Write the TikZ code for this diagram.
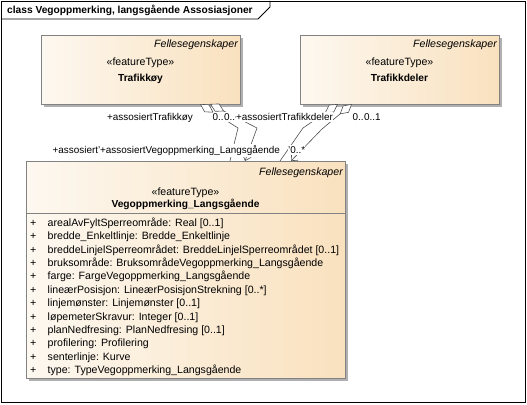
\documentclass[tikz,border=0pt]{standalone}
\usepackage{fontspec}
\setmainfont{Liberation Sans}
\usetikzlibrary{arrows.meta}
\definecolor{boxL}{RGB}{253,248,240}
\definecolor{boxR}{RGB}{249,225,190}
\definecolor{boxBorder}{RGB}{130,130,130}
\definecolor{shadowC}{RGB}{176,176,176}
\definecolor{lineC}{RGB}{80,80,80}
\newcommand\lblfont{\fontsize{10.2}{12}\selectfont}
\newcommand\attfont{\fontsize{10.6}{12}\selectfont}
\newcommand\rolefont{\fontsize{9.9}{12}\selectfont}
\tikzset{
  cls/.style={draw=boxBorder, line width=0.6pt, left color=boxL, right color=boxR, inner sep=0pt, anchor=north west},
  shadowbox/.style={fill=shadowC, draw=none},
  txt/.style={inner sep=0pt, font=\lblfont},
  stereo/.style={txt, anchor=base, font=\attfont},
  clsname/.style={txt, anchor=base, font=\lblfont\bfseries},
  pkg/.style={txt, anchor=base east, font=\attfont\itshape},
  attr/.style={txt, anchor=base west, font=\attfont},
  role/.style={txt, anchor=base west, fill=white, inner ysep=1.5pt, font=\rolefont},
  conn/.style={draw=lineC, line width=0.6pt},
  aggr/.style={conn, {Diamond[open, fill=white, length=16pt, width=9pt]}-},
  aggrnav/.style={conn, {Diamond[open, fill=white, length=16pt, width=9pt]}-{Straight Barb[length=5pt, width=9pt]}}
}
\begin{document}
\begin{tikzpicture}[x=1pt, y=-1pt]
\useasboundingbox (0,0) rectangle (527,404);
\fill[white] (0,0) rectangle (527,404);
% frame
\draw[black, line width=0.8pt] (1,1) rectangle (525,402);
\draw[black, line width=0.8pt] (1,19) -- (258,19) -- (270,7) -- (270,1);
\node[txt, anchor=base west, font=\lblfont\bfseries] (title) at (7,14) {class Vegoppmerking, langsgående Assosiasjoner};

% Trafikkøy
\fill[shadowbox] (44,38) rectangle (243,107);
\node[cls, minimum width=199pt, minimum height=69pt] (ky) at (41,35) {};
\node[pkg] (kyp) at (238,48) {Fellesegenskaper};
\node[stereo] (kys) at (140.5,66) {«featureType»};
\node[clsname] (kyn) at (140.5,81.5) {Trafikkøy};

% Trafikkdeler
\fill[shadowbox] (303,38) rectangle (502,107);
\node[cls, minimum width=199pt, minimum height=69pt] (td) at (300,35) {};
\node[pkg] (tdp) at (497,48) {Fellesegenskaper};
\node[stereo] (tds) at (399.5,66) {«featureType»};
\node[clsname] (tdn) at (399.5,81.5) {Trafikkdeler};

% Vegoppmerking_Langsgående
\fill[shadowbox] (29,164) rectangle (348,381);
\node[cls, minimum width=319pt, minimum height=217pt] (vl) at (26,161) {};
\node[pkg] (vlp) at (343,175) {Fellesegenskaper};
\node[stereo] (vls) at (185.5,195) {«featureType»};
\node[clsname] (vln) at (185.5,207.5) {Vegoppmerking\_Langsgående};
\draw[boxBorder, line width=0.6pt] (26,213) -- (345,213);
\foreach \i/\t in {
  0/{arealAvFyltSperreområde: Real [0..1]},
  1/{bredde\_Enkeltlinje: Bredde\_Enkeltlinje},
  2/{breddeLinjelSperreområdet: BreddeLinjelSperreområdet [0..1]},
  3/{bruksområde: BruksområdeVegoppmerking\_Langsgående},
  4/{farge: FargeVegoppmerking\_Langsgående},
  5/{lineærPosisjon: LineærPosisjonStrekning [0..*]},
  6/{linjemønster: Linjemønster [0..1]},
  7/{løpemeterSkravur: Integer [0..1]},
  8/{planNedfresing: PlanNedfresing [0..1]},
  9/{profilering: Profilering},
  10/{senterlinje: Kurve},
  11/{type: TypeVegoppmerking\_Langsgående}} {
  \node[attr] (plus\i) at (30,226.5+13.36*\i) {+};
  \node[attr] (att\i) at (47.5,226.5+13.36*\i) {\t};
}

% connector end points
\coordinate (kyA) at (200,104);
\coordinate (kyB) at (210,104);
\coordinate (tdC) at (338,104);
\coordinate (tdD) at (352,104);
\coordinate (vlA) at (230,161);
\coordinate (vlB) at (245,161);
\coordinate (vlC) at (280,161);
\coordinate (vlD) at (291,161);

\draw[aggr] (kyA) -- (238,128) -- (vlA);
\draw[aggrnav] (kyB) -- (257,128) -- (vlB);
\draw[aggr] (tdC) -- (303,128) -- (vlC);
\draw[aggrnav] (tdD) -- (322,129) -- (vlD);

% role labels
\node[role] (r1) at (107,120.5) {+assosiertTrafikkøy};
\node[role] (m1) at (212.5,120.5) {0..};
\node[role] (m2) at (224,120.5) {0..};
\node[role] (r2) at (236,120.5) {+assosiertTrafikkdeler};
\node[role] (m3) at (352.5,120.5) {0..};
\node[role] (m4) at (364,120.5) {0..1};
\node[role] (r3) at (52.5,153.5) {+assosiert\char"0027};
\node[role] (r4) at (100,153.5) {+assosiertVegoppmerking\_Langsgående};
\node[role] (m5) at (288,153.5) {\char"0027 0..*};
\end{tikzpicture}
\end{document}
